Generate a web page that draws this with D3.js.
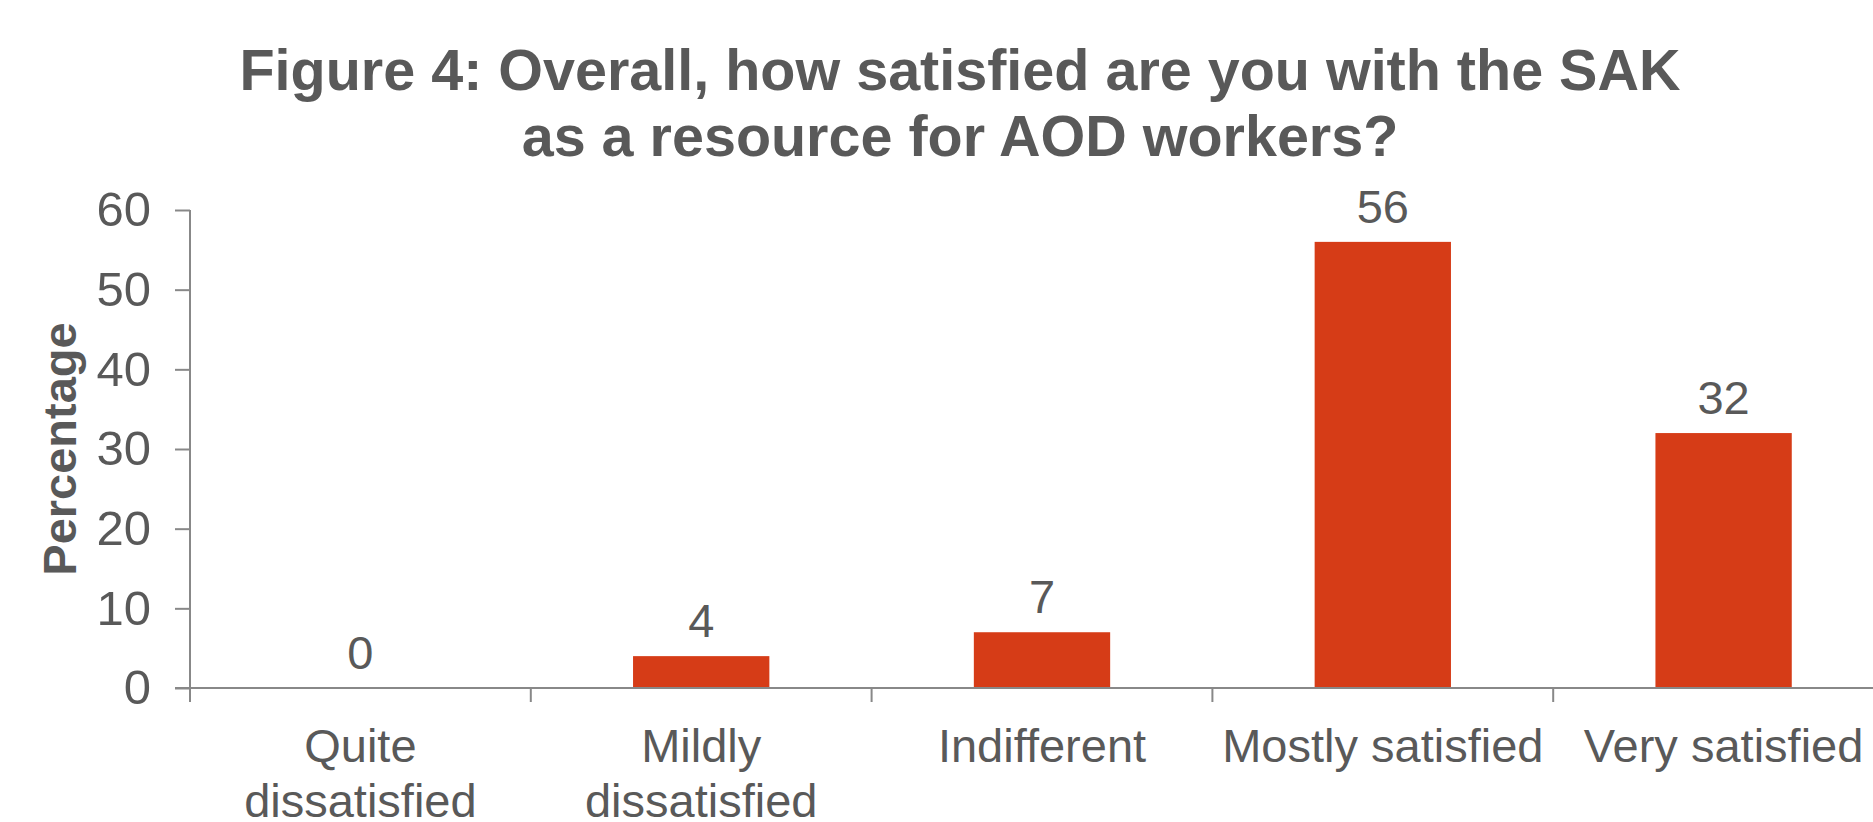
<!DOCTYPE html>
<html><head><meta charset="utf-8">
<script src="https://cdn.jsdelivr.net/npm/d3@7"></script>
<style>body{margin:0;background:#fff;} svg{display:block;font-family:"Liberation Sans",Arial,sans-serif;}</style>
</head><body>
<script>
const categories = [["Quite","dissatisfied"],["Mildly","dissatisfied"],["Indifferent"],["Mostly satisfied"],["Very satisfied"]];
const values = [0, 4, 7, 56, 32];
const yTicks = [0, 10, 20, 30, 40, 50, 60];
const titleLines = ["Figure 4: Overall, how satisfied are you with the SAK", "as a resource for AOD workers?"];
const yLabel = "Percentage";

const W = 1873, H = 822;
const textColor = "#595959", axisColor = "#888888", barColor = "#d63c17";
const svg = d3.select("body").append("svg").attr("width", W).attr("height", H);

const keys = categories.map((c, i) => i);
const x = d3.scaleBand().domain(keys).range([190, 1894]).paddingInner(0.6).paddingOuter(0.3);
const y = d3.scaleLinear().domain([0, 60]).range([688, 210]);

// title
svg.append("g").selectAll("text").data(titleLines).join("text")
  .attr("x", 960).attr("y", (d, i) => 90 + i * 66)
  .attr("text-anchor", "middle").attr("font-size", 57.5).attr("font-weight", "bold")
  .attr("fill", textColor).text(d => d);

// bars
svg.append("g").selectAll("rect").data(values).join("rect")
  .attr("x", (d, i) => x(i)).attr("width", x.bandwidth())
  .attr("y", d => y(d)).attr("height", d => y(0) - y(d))
  .attr("fill", barColor);

// data labels
svg.append("g").selectAll("text").data(values).join("text")
  .attr("x", (d, i) => x(i) + x.bandwidth() / 2).attr("y", d => y(d) - 19)
  .attr("text-anchor", "middle").attr("font-size", 47).attr("fill", textColor)
  .text(d => d);

// y axis
const yAxis = svg.append("g").attr("transform", "translate(190,0)")
  .call(d3.axisLeft(y).tickValues(yTicks).tickSize(15).tickPadding(24).tickSizeOuter(0));
yAxis.select(".domain").attr("stroke", axisColor).attr("stroke-width", 2)
  .attr("d", "M0,210V702");
yAxis.selectAll(".tick line").attr("stroke", axisColor).attr("stroke-width", 2);
yAxis.selectAll(".tick text").attr("font-size", 49).attr("fill", textColor)
  .attr("font-family", "Liberation Sans, Arial, sans-serif");

// x axis line and boundary ticks
const xg = svg.append("g");
xg.append("line").attr("x1", 175).attr("x2", 1894).attr("y1", y(0)).attr("y2", y(0))
  .attr("stroke", axisColor).attr("stroke-width", 2);
const boundaryX = keys.slice(1).map(i => (x(i - 1) + x.bandwidth() + x(i)) / 2);
xg.selectAll("line.b").data(boundaryX).join("line").attr("class", "b")
  .attr("x1", d => d).attr("x2", d => d).attr("y1", y(0)).attr("y2", y(0) + 14)
  .attr("stroke", axisColor).attr("stroke-width", 2);

// category labels
const cl = svg.append("g").selectAll("text").data(categories).join("text")
  .attr("text-anchor", "middle").attr("font-size", 47).attr("fill", textColor);
cl.selectAll("tspan").data((d, i) => d.map(t => ({t, i}))).join("tspan")
  .attr("x", d => x(d.i) + x.bandwidth() / 2)
  .attr("y", (d, j) => 762 + j * 55)
  .text(d => d.t);

// y label
svg.append("text").attr("transform", "translate(76,449) rotate(-90)")
  .attr("text-anchor", "middle").attr("font-size", 47).attr("font-weight", "bold")
  .attr("fill", textColor).text(yLabel);
</script>
</body></html>
